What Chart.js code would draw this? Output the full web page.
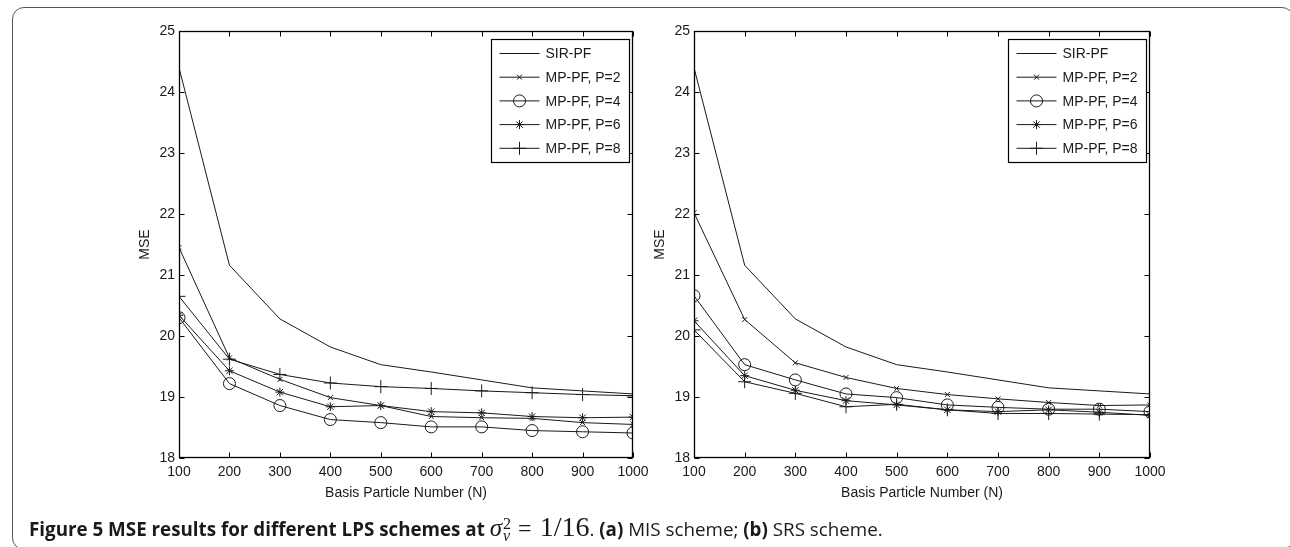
<!DOCTYPE html>
<html>
<head>
<meta charset="utf-8">
<script src="https://cdn.jsdelivr.net/npm/chart.js@4.4.1/dist/chart.umd.min.js"></script>
<style>
  html, body { margin: 0; padding: 0; background: #fff; }
  body { width: 1290px; height: 547px; position: relative; overflow: hidden; }
  #frame { position: absolute; left: 12px; top: 7px; width: 1282px; height: 543px;
           border: 1.5px solid #555; border-radius: 12px; box-sizing: border-box; }
  .panel { position: absolute; top: 0; }
  #caption { position: absolute; left: 29px; top: 511px; font-family: "Open Sans", "Noto Sans", sans-serif;
             font-size: 18.8px; color: #1a1a1a; white-space: nowrap; }
  #caption b { font-weight: 700; }
  .math { font-family: "Liberation Serif", "DejaVu Serif", serif; }
  .sig { font-style: italic; font-size: 25px; }
  .supsub { display: inline-block; vertical-align: middle; line-height: 12px; font-size: 16px;
            position: relative; top: -2px; margin-left: 1px; text-align: left; }
  .supsub span { display: block; }
  .eq { font-size: 24px; margin: 0 8px 0 7px; }
  .frac { font-size: 28px; }
</style>
</head>
<body>
<div id="frame"></div>
<canvas id="panelA" class="panel" width="560" height="515" style="left:100px"></canvas>
<canvas id="panelB" class="panel" width="560" height="515" style="left:640px"></canvas>
<div id="caption"><b>Figure 5 MSE results for different LPS schemes at</b> <span class="math"><span class="sig">σ</span><span class="supsub"><span>2</span><span style="font-style:italic">ν</span></span><span class="eq">=</span><span class="frac">1/16</span></span>. <b>(a)</b> MIS scheme; <b>(b)</b> SRS scheme.</div>

<script>
// Basis particle numbers on the x axis
const basisN = [100, 200, 300, 400, 500, 600, 700, 800, 900, 1000];
const seriesNames = ['SIR-PF', 'MP-PF, P=2', 'MP-PF, P=4', 'MP-PF, P=6', 'MP-PF, P=8'];
const yMin = 18, yMax = 25;
const xAxisTitle = 'Basis Particle Number (N)';
const yAxisTitle = 'MSE';

// (a) MIS scheme
const misSIR = [24.40, 21.16, 20.28, 19.82, 19.53, 19.41, 19.28, 19.15, 19.10, 19.05];
const misP2  = [21.45, 19.64, 19.29, 18.99, 18.86, 18.68, 18.66, 18.65, 18.58, 18.55];
const misP4  = [20.30, 19.22, 18.86, 18.63, 18.58, 18.51, 18.51, 18.45, 18.43, 18.41];
const misP6  = [20.34, 19.43, 19.08, 18.84, 18.86, 18.76, 18.74, 18.68, 18.66, 18.67];
const misP8  = [20.65, 19.62, 19.37, 19.23, 19.17, 19.14, 19.10, 19.07, 19.04, 19.02];

// (b) SRS scheme
const srsSIR = [24.40, 21.16, 20.28, 19.82, 19.53, 19.41, 19.28, 19.15, 19.10, 19.05];
const srsP2  = [22.02, 20.27, 19.56, 19.32, 19.14, 19.04, 18.97, 18.91, 18.86, 18.87];
const srsP4  = [20.66, 19.53, 19.28, 19.05, 18.99, 18.87, 18.83, 18.80, 18.80, 18.76];
const srsP6  = [20.25, 19.35, 19.11, 18.94, 18.87, 18.79, 18.76, 18.79, 18.75, 18.70];
const srsP8  = [20.10, 19.25, 19.06, 18.84, 18.88, 18.79, 18.73, 18.73, 18.72, 18.71];

// Marker styles per series (SIR-PF has none)
const markerStyles = [false, 'crossRot', 'circle', 'star', 'cross'];
const markerSizes  = [0, 3.5, 6, 4.5, 6.5];
const ink = '#1a1a1a';

const axisFamily = '"Liberation Sans", Arial, sans-serif';
const tickSize = 14, titleSize = 14, legendSize = 14;

Chart.defaults.color = ink;
Chart.defaults.font.family = axisFamily;

function drawMarker(ctx, style, r, x, y) {
  if (!style || r <= 0) return;
  ctx.beginPath();
  if (style === 'circle') {
    ctx.arc(x, y, r, 0, Math.PI * 2);
  } else {
    const d = r * Math.SQRT1_2;
    if (style === 'cross' || style === 'star') {
      ctx.moveTo(x - r, y); ctx.lineTo(x + r, y);
      ctx.moveTo(x, y - r); ctx.lineTo(x, y + r);
    }
    if (style === 'crossRot' || style === 'star') {
      ctx.moveTo(x - d, y - d); ctx.lineTo(x + d, y + d);
      ctx.moveTo(x - d, y + d); ctx.lineTo(x + d, y - d);
    }
  }
  ctx.stroke();
}

// Plot box with inward ticks on all four sides
const boxTicks = {
  id: 'boxTicks',
  afterDatasetsDraw(chart) {
    const { ctx, chartArea: a, scales: { x, y } } = chart;
    const L = Math.round(a.left) + 0.5, R = Math.round(a.right) - 0.5;
    const T = Math.round(a.top) + 0.5, B = Math.round(a.bottom) - 0.5;
    const tl = 5;
    ctx.save();
    ctx.strokeStyle = '#000';
    ctx.lineWidth = 1;
    ctx.beginPath();
    x.ticks.forEach(t => {
      const px = Math.round(x.getPixelForValue(t.value)) + 0.5;
      ctx.moveTo(px, B); ctx.lineTo(px, B - tl);
      ctx.moveTo(px, T); ctx.lineTo(px, T + tl);
    });
    y.ticks.forEach(t => {
      const py = Math.round(y.getPixelForValue(t.value)) + 0.5;
      ctx.moveTo(L, py); ctx.lineTo(L + tl, py);
      ctx.moveTo(R, py); ctx.lineTo(R - tl, py);
    });
    ctx.stroke();
    ctx.lineWidth = 1.3;
    ctx.strokeRect(L, T, R - L, B - T);
    ctx.restore();
  }
};

// Boxed legend in the upper-right corner: line sample with marker, then label
const boxLegend = {
  id: 'boxLegend',
  afterDraw(chart) {
    const { ctx, chartArea: a } = chart;
    const w = 138, h = 123;
    const bx = Math.round(a.right - 4 - w) + 0.5, by = Math.round(a.top + 8) + 0.5;
    ctx.save();
    ctx.fillStyle = '#fff';
    ctx.fillRect(bx, by, w, h);
    ctx.strokeStyle = '#000';
    ctx.lineWidth = 1.2;
    ctx.strokeRect(bx, by, w, h);
    ctx.font = legendSize + 'px ' + axisFamily;
    ctx.textBaseline = 'middle';
    ctx.textAlign = 'left';
    chart.data.datasets.forEach((ds, i) => {
      const yy = by + 14 + i * 23.7;
      ctx.strokeStyle = ink;
      ctx.lineWidth = 1;
      ctx.beginPath();
      ctx.moveTo(bx + 8, yy); ctx.lineTo(bx + 48, yy);
      ctx.stroke();
      drawMarker(ctx, ds.pointStyle, ds.pointRadius, bx + 28, yy);
      ctx.fillStyle = ink;
      ctx.fillText(ds.label, bx + 54, yy + 1);
    });
    ctx.restore();
  }
};

function makePanel(id, values, geo) {
  const datasets = values.map((vals, i) => ({
    label: seriesNames[i],
    data: basisN.map((n, j) => ({ x: n, y: vals[j] })),
    borderColor: ink,
    borderWidth: 1,
    pointStyle: markerStyles[i],
    pointRadius: markerSizes[i],
    pointBorderColor: ink,
    pointBorderWidth: 1,
    pointBackgroundColor: 'rgba(0,0,0,0)',
    pointHoverRadius: markerSizes[i],
    tension: 0,
    fill: false
  }));
  return new Chart(document.getElementById(id), {
    type: 'line',
    data: { datasets },
    plugins: [boxTicks, boxLegend],
    options: {
      responsive: false,
      animation: false,
      devicePixelRatio: 1,
      layout: { padding: { top: 31, right: geo.padRight, left: 0, bottom: 0 } },
      plugins: { legend: { display: false }, tooltip: { enabled: false } },
      scales: {
        x: {
          type: 'linear', min: 100, max: 1000,
          grid: { display: false, drawTicks: false },
          border: { display: false },
          ticks: { stepSize: 100, padding: 6, maxRotation: 0, autoSkip: false,
                   font: { size: tickSize }, callback: v => String(v) },
          title: { display: true, text: xAxisTitle, font: { size: titleSize },
                   padding: { top: 0, bottom: 13 } },
          afterFit(s) { s.height = 57; s.paddingLeft = 0; s.paddingRight = 0; }
        },
        y: {
          type: 'linear', min: yMin, max: yMax,
          grid: { display: false, drawTicks: false },
          border: { display: false },
          ticks: { stepSize: 1, padding: 4, font: { size: tickSize }, callback: v => String(v) },
          title: { display: true, text: yAxisTitle, font: { size: titleSize },
                   padding: { top: geo.titlePad, bottom: 0 } },
          afterFit(s) { s.width = geo.yWidth; s.paddingTop = 0; s.paddingBottom = 0; }
        }
      }
    }
  });
}

makePanel('panelA', [misSIR, misP2, misP4, misP6, misP8], { yWidth: 79, padRight: 27, titlePad: 37 });
makePanel('panelB', [srsSIR, srsP2, srsP4, srsP6, srsP8], { yWidth: 54, padRight: 50, titlePad: 12 });
</script>
</body>
</html>
